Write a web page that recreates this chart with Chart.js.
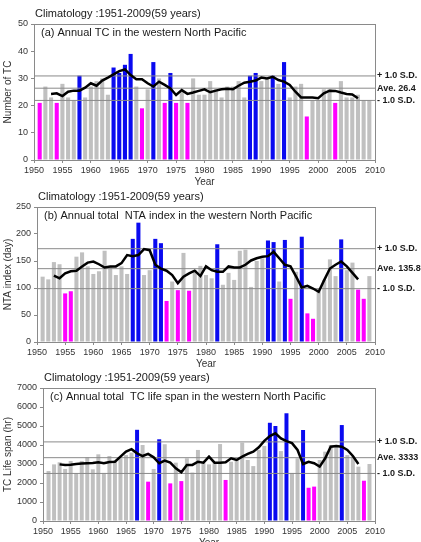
<!DOCTYPE html>
<html lang="en">
<head>
<meta charset="UTF-8">
<title>Climatology 1951-2009</title>
<script src="https://cdn.jsdelivr.net/npm/chart.js"></script>
<style>
    body {
        margin: 0;
        width: 421px;
        height: 542px;
        overflow: hidden;
        background: #fff;
        font-family: Arial, "Liberation Sans", sans-serif;
    }
    .panel {
        position: absolute;
        left: 0;
        width: 421px;
    }
    #panelA { top: 0; height: 188px; }
    #panelB { top: 188px; height: 182px; }
    #panelC { top: 370px; height: 179px; }
</style>
</head>
<body>
<div class="panel" id="panelA"><canvas id="chartA"></canvas></div>
<div class="panel" id="panelB"><canvas id="chartB"></canvas></div>
<div class="panel" id="panelC"><canvas id="chartC"></canvas></div>

<script>
const years = [1951, 1952, 1953, 1954, 1955, 1956, 1957, 1958, 1959, 1960,
    1961, 1962, 1963, 1964, 1965, 1966, 1967, 1968, 1969, 1970,
    1971, 1972, 1973, 1974, 1975, 1976, 1977, 1978, 1979, 1980,
    1981, 1982, 1983, 1984, 1985, 1986, 1987, 1988, 1989, 1990,
    1991, 1992, 1993, 1994, 1995, 1996, 1997, 1998, 1999, 2000,
    2001, 2002, 2003, 2004, 2005, 2006, 2007, 2008, 2009];
// 5-year running mean is plotted for 1953-2007
const meanYears = years.slice(2, 57);

// (a) number of TC
const tcCount = [21, 27, 23, 21, 28, 23, 22, 31, 23, 27,
    29, 30, 24, 34, 32, 35, 39, 27, 19, 26,
    36, 30, 21, 32, 21, 25, 21, 30, 24, 24,
    29, 26, 23, 27, 27, 29, 23, 31, 32, 29,
    30, 31, 28, 36, 23, 27, 28, 16, 22, 22,
    26, 26, 21, 29, 23, 23, 24, 22, 22];
const tcMean = [24.3, 24.5, 23.5, 25.1, 25.5, 25.5, 26.6, 28.2, 27.3, 29.2,
    30.3, 31.5, 32.7, 33.3, 31.2, 29.7, 29.7, 28.2, 27.0, 28.8,
    27.6, 26.3, 23.9, 25.7, 24.3, 24.8, 25.4, 26.0, 24.9, 25.5,
    26.0, 26.2, 26.0, 27.3, 28.4, 28.8, 29.2, 30.3, 30.0, 30.6,
    29.4, 28.8, 27.6, 25.1, 23.0, 23.0, 23.0, 22.7, 24.5, 25.5,
    25.4, 24.8, 24.3, 24.1, 22.7];
const tcAve = 26.4;
const tcSD = 4.5;

// (b) NTA index (day)
const ntaIndex = [121, 116, 148, 144, 90, 94, 158, 166, 140, 126,
    131, 169, 140, 124, 140, 126, 191, 221, 124, 133,
    191, 183, 76, 112, 96, 165, 95, 133, 141, 124,
    118, 181, 106, 128, 115, 169, 171, 102, 150, 155,
    188, 185, 112, 189, 80, 130, 195, 53, 43, 100,
    115, 153, 122, 190, 133, 147, 97, 80, 122];
const ntaMean = [123, 118, 127, 131, 132, 140, 147, 149, 144, 138,
    140, 140, 146, 161, 159, 161, 172, 170, 143, 136,
    132, 124, 109, 121, 127, 132, 122, 140, 133, 130,
    130, 140, 138, 138, 143, 151, 155, 158, 159, 167,
    155, 143, 140, 121, 101, 104, 99, 93, 115, 136,
    143, 149, 140, 128, 116];
const ntaAve = 135.8;
const ntaSD = 37;

// (c) TC life span (hr)
const lifeSpan = [2630, 2980, 3090, 2740, 3160, 2520, 3160, 3350, 2720, 3510,
    2530, 3420, 3180, 3300, 3470, 3600, 4800, 4000, 2070, 2740,
    4300, 4040, 1980, 3070, 2100, 3300, 2550, 3740, 3040, 2980,
    3040, 4050, 2160, 3120, 3300, 4120, 3210, 2890, 3740, 3950,
    5170, 5000, 3680, 5670, 2530, 3300, 4790, 1750, 1810, 3210,
    3650, 4000, 3900, 5050, 3470, 3390, 2860, 2120, 3000];
const lifeMean = [2980, 2950, 2960, 3000, 3020, 3040, 3050, 3090, 3040, 3100,
    3120, 3390, 3650, 3780, 3560, 3420, 3530, 3350, 3040, 3180,
    3070, 2770, 2560, 2950, 2950, 3120, 3070, 3390, 3070, 3070,
    3090, 3300, 3210, 3390, 3530, 3650, 3880, 4220, 4470, 4615,
    4350, 4200, 4100, 3740, 3000, 3120, 3040, 2860, 3300, 3910,
    3950, 3910, 3740, 3420, 3000];
const lifeAve = 3333;
const lifeSD = 830;

const GRAY = '#c0c0c0';
const BLUE = '#0a0af0';
const MAGENTA = '#ff00ff';
const LINE_GRAY = '#8a8a8a';
const TEXT = '#1a1a1a';

const climTitle = 'Climatology :1951-2009(59 years)';

// box round the plot, panel titles and the S.D. labels on the right
const panelText = {
    id: 'panelText',
    afterDraw(chart, args, opts) {
        const { ctx, chartArea: a, scales } = chart;
        ctx.save();
        ctx.strokeStyle = LINE_GRAY;
        ctx.lineWidth = 1;
        ctx.strokeRect(Math.round(a.left) + 0.5, Math.round(a.top) + 0.5,
            Math.round(a.width), Math.round(a.height));
        ctx.fillStyle = TEXT;
        ctx.textBaseline = 'middle';
        ctx.textAlign = 'left';
        ctx.font = '11px Arial';
        ctx.fillText(climTitle, a.left + 1, a.top - 10);
        ctx.fillText(opts.label, a.left + 7, a.top + 9);
        ctx.font = 'bold 9px Arial';
        opts.marks.forEach(m => {
            ctx.fillText(m.text, a.right + 2, scales.y.getPixelForValue(m.value));
        });
        ctx.restore();
    }
};

function makePanel(canvasId, cfg) {
    const hi = cfg.ave + cfg.sd;
    const lo = cfg.ave - cfg.sd;
    const flat = v => [{ x: 1950, y: v }, { x: 2010, y: v }];
    const sdLine = v => ({
        type: 'line', data: flat(v), borderColor: LINE_GRAY, borderWidth: 1,
        pointRadius: 0, order: 2
    });

    new Chart(document.getElementById(canvasId), {
        type: 'bar',
        data: {
            datasets: [
                {
                    type: 'line',
                    data: meanYears.map((y, i) => ({ x: y, y: cfg.mean[i] })),
                    borderColor: '#000',
                    borderWidth: 2.5,
                    pointRadius: 0,
                    tension: 0,
                    order: 1
                },
                sdLine(hi),
                sdLine(cfg.ave),
                sdLine(lo),
                {
                    type: 'bar',
                    data: years.map((y, i) => ({ x: y, y: cfg.values[i] })),
                    backgroundColor: cfg.values.map(v => v > hi ? BLUE : (v < lo ? MAGENTA : GRAY)),
                    barPercentage: 0.72,
                    categoryPercentage: 1,
                    order: 3
                }
            ]
        },
        options: {
            responsive: true,
            maintainAspectRatio: false,
            animation: false,
            layout: { padding: { top: cfg.top, right: 46, left: 0, bottom: 0 } },
            plugins: {
                legend: { display: false },
                tooltip: { enabled: false },
                panelText: {
                    label: cfg.label,
                    marks: [
                        { value: hi, text: '+ 1.0 S.D.' },
                        { value: cfg.ave, text: 'Ave. ' + cfg.ave },
                        { value: lo, text: '- 1.0 S.D.' }
                    ]
                }
            },
            scales: {
                x: {
                    type: 'linear',
                    min: 1950,
                    max: 2010,
                    offset: false,
                    grid: { offset: false, drawOnChartArea: false, tickLength: 3, color: LINE_GRAY },
                    border: { color: LINE_GRAY },
                    ticks: {
                        stepSize: 5,
                        autoSkip: false,
                        maxRotation: 0,
                        padding: 2,
                        color: '#333',
                        font: { size: 9, family: 'Arial' },
                        callback: v => String(v)
                    },
                    title: {
                        display: true,
                        text: 'Year',
                        color: '#333',
                        font: { size: 10, family: 'Arial' },
                        padding: { top: 0, bottom: 0 }
                    },
                    afterFit: s => { s.height = 28; }
                },
                y: {
                    min: 0,
                    max: cfg.max,
                    grid: { drawOnChartArea: false, tickLength: 3, color: LINE_GRAY },
                    border: { color: LINE_GRAY },
                    ticks: {
                        stepSize: cfg.step,
                        padding: 3,
                        color: '#333',
                        font: { size: 9, family: 'Arial' },
                        callback: v => String(v)
                    },
                    title: {
                        display: true,
                        text: cfg.yTitle,
                        color: '#333',
                        font: { size: 10, family: 'Arial' },
                        padding: { top: 2, bottom: 2 }
                    },
                    afterFit: s => { s.width = cfg.left; }
                }
            }
        },
        plugins: [panelText]
    });
}

makePanel('chartA', {
    values: tcCount, mean: tcMean, ave: tcAve, sd: tcSD,
    max: 50, step: 10, top: 24, left: 34,
    yTitle: 'Number of TC',
    label: '(a) Annual TC in the western North Pacific'
});
makePanel('chartB', {
    values: ntaIndex, mean: ntaMean, ave: ntaAve, sd: ntaSD,
    max: 250, step: 50, top: 19, left: 37,
    yTitle: 'NTA index (day)',
    label: '(b) Annual total  NTA index in the western North Pacific'
});
makePanel('chartC', {
    values: lifeSpan, mean: lifeMean, ave: lifeAve, sd: lifeSD,
    max: 7000, step: 1000, top: 18, left: 43,
    yTitle: 'TC Life span (hr)',
    label: '(c) Annual total  TC life span in the western North Pacific'
});
</script>
</body>
</html>
